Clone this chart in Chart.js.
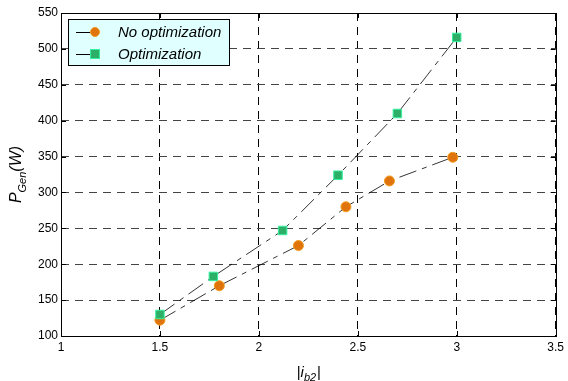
<!DOCTYPE html>
<html>
<head>
<meta charset="utf-8">
<script src="https://cdn.jsdelivr.net/npm/chart.js@4/dist/chart.umd.min.js"></script>
<style>
  html, body { margin: 0; padding: 0; background: #fff; }
  #wrap { width: 568px; height: 381px; position: relative; }
</style>
</head>
<body>
<div id="wrap"><canvas id="chart"></canvas></div>
<script>
// ---- data ----
const noOptX = [1.5, 1.8, 2.2, 2.44, 2.66, 2.98];
const noOptY = [122, 170, 226, 280, 316, 349];
const optX = [1.5, 1.77, 2.12, 2.4, 2.7, 3.0];
const optY = [130, 183, 247, 324, 410, 516];
const xTicks = [1, 1.5, 2, 2.5, 3, 3.5];
const yTicks = [100, 150, 200, 250, 300, 350, 400, 450, 500, 550];
const seriesNames = ['No optimization', 'Optimization'];

const FONT = 'Arial, "Liberation Sans", sans-serif';
const ORANGE = '#df730c', ORANGE_EDGE = '#f39a1e';
const GREEN = '#2daf68', GREEN_EDGE = '#35f0a0';

function toPoints(xs, ys) {
  return xs.map((x, i) => ({ x: x, y: ys[i] }));
}

// frame, inward ticks, legend and axis titles (matlab look)
const decorations = {
  id: 'decorations',
  afterDraw(chart) {
    const ctx = chart.ctx;
    const a = chart.chartArea;
    const xs = chart.scales.x, ys = chart.scales.y;
    ctx.save();
    ctx.setLineDash([]);
    ctx.strokeStyle = '#000';
    ctx.lineWidth = 1;
    // box
    ctx.strokeRect(Math.round(a.left) + 0.5, Math.round(a.top) + 0.5,
      Math.round(a.right - a.left), Math.round(a.bottom - a.top));
    // inward ticks
    ctx.beginPath();
    xTicks.forEach(v => {
      const px = Math.round(xs.getPixelForValue(v)) + 0.5;
      ctx.moveTo(px, a.bottom); ctx.lineTo(px, a.bottom - 5);
      ctx.moveTo(px, a.top); ctx.lineTo(px, a.top + 5);
    });
    yTicks.forEach(v => {
      const py = Math.round(ys.getPixelForValue(v)) + 0.5;
      ctx.moveTo(a.left, py); ctx.lineTo(a.left + 5, py);
      ctx.moveTo(a.right, py); ctx.lineTo(a.right - 5, py);
    });
    ctx.stroke();

    // legend
    const lx = 68.5, ly = 19.5, lw = 161, lh = 46;
    ctx.fillStyle = '#e0ffff';
    ctx.fillRect(lx, ly, lw, lh);
    ctx.strokeRect(lx, ly, lw, lh);
    const rows = [32, 54];
    ctx.font = 'italic 15px ' + FONT;
    ctx.textBaseline = 'middle';
    rows.forEach((ry, i) => {
      ctx.beginPath();
      ctx.moveTo(76, ry + 0.5); ctx.lineTo(95, ry + 0.5);
      ctx.strokeStyle = '#000';
      ctx.stroke();
      if (i === 0) {
        ctx.beginPath();
        ctx.arc(95, ry, 4.5, 0, Math.PI * 2);
        ctx.fillStyle = ORANGE; ctx.fill();
        ctx.strokeStyle = ORANGE_EDGE; ctx.stroke();
      } else {
        ctx.fillStyle = GREEN; ctx.fillRect(90.5, ry - 4.5, 9, 9);
        ctx.strokeStyle = GREEN_EDGE; ctx.strokeRect(90.5, ry - 4.5, 9, 9);
      }
      ctx.fillStyle = '#000';
      ctx.textAlign = 'left';
      ctx.fillText(seriesNames[i], 118, ry + 1);
    });

    // x title  |i_b2|
    ctx.textBaseline = 'alphabetic';
    const parts = [
      { t: '|', f: '15px ' + FONT, dy: 0 },
      { t: 'i', f: 'italic 15px ' + FONT, dy: 0 },
      { t: 'b2', f: 'italic 11px ' + FONT, dy: 4 },
      { t: '|', f: '15px ' + FONT, dy: 0 }
    ];
    let total = 0;
    parts.forEach(p => { ctx.font = p.f; p.w = ctx.measureText(p.t).width; total += p.w; });
    let cx = (a.left + a.right) / 2 - total / 2;
    parts.forEach(p => {
      ctx.font = p.f;
      ctx.fillText(p.t, cx, 377 + p.dy);
      cx += p.w + (p.t === 'b2' ? 1 : 0);
    });

    // y title  P_Gen(W)
    const yparts = [
      { t: 'P', f: 'italic 16px ' + FONT, dy: 0 },
      { t: 'Gen', f: 'italic 11px ' + FONT, dy: 5 },
      { t: '(W)', f: 'italic 16px ' + FONT, dy: 0 }
    ];
    total = 0;
    yparts.forEach(p => { ctx.font = p.f; p.w = ctx.measureText(p.t).width; total += p.w; });
    ctx.translate(21, (a.top + a.bottom) / 2);
    ctx.rotate(-Math.PI / 2);
    cx = -total / 2;
    yparts.forEach(p => {
      ctx.font = p.f;
      ctx.fillText(p.t, cx, p.dy);
      cx += p.w;
    });
    ctx.restore();
  }
};

const lineDash = [18, 6, 5, 6];

new Chart(document.getElementById('chart'), {
  type: 'scatter',
  data: {
    datasets: [
      {
        label: seriesNames[0],
        data: toPoints(noOptX, noOptY),
        showLine: true,
        borderColor: '#000',
        borderWidth: 0.8,
        borderDash: lineDash,
        pointStyle: 'circle',
        pointRadius: 5,
        pointBackgroundColor: ORANGE,
        pointBorderColor: ORANGE_EDGE,
        pointBorderWidth: 1,
        order: 1
      },
      {
        label: seriesNames[1],
        data: toPoints(optX, optY),
        showLine: true,
        borderColor: '#000',
        borderWidth: 0.8,
        borderDash: lineDash,
        pointStyle: 'rect',
        pointRadius: 6,
        pointBackgroundColor: GREEN,
        pointBorderColor: GREEN_EDGE,
        pointBorderWidth: 1,
        order: 0
      }
    ]
  },
  options: {
    responsive: true,
    maintainAspectRatio: false,
    animation: false,
    layout: { padding: { top: 13, right: 10, left: 0, bottom: 0 } },
    plugins: {
      legend: { display: false },
      tooltip: { enabled: false }
    },
    scales: {
      x: {
        type: 'linear',
        min: 1, max: 3.5,
        afterBuildTicks: s => { s.ticks = xTicks.map(v => ({ value: v })); },
        afterFit: s => { s.height = 45; },
        ticks: {
          color: '#000',
          font: { family: FONT, size: 12 },
          padding: 4,
          maxRotation: 0,
          callback: v => String(v)
        },
        grid: { color: '#000', lineWidth: 1, drawTicks: false },
        border: { display: false, dash: [8, 6] }
      },
      y: {
        type: 'linear',
        min: 100, max: 550,
        afterBuildTicks: s => { s.ticks = yTicks.map(v => ({ value: v })); },
        afterFit: s => { s.width = 61; },
        ticks: {
          color: '#000',
          font: { family: FONT, size: 12 },
          padding: 3,
          callback: v => String(v)
        },
        grid: { color: '#444', lineWidth: 1, drawTicks: false },
        border: { display: false, dash: [8, 6] }
      }
    }
  },
  plugins: [decorations]
});
</script>
</body>
</html>
